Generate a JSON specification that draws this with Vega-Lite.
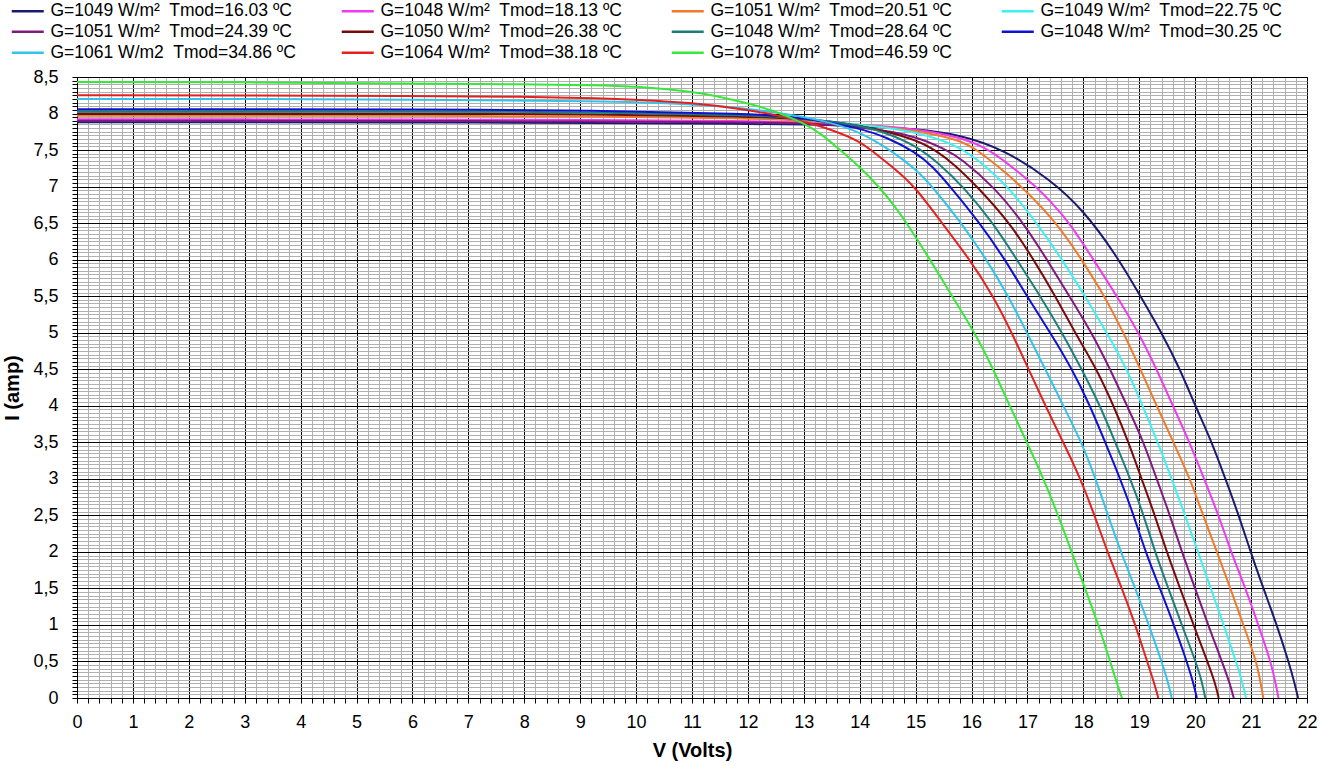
{
  "$schema": "https://vega.github.io/schema/vega-lite/v6.json",
  "autosize": {"type": "none"},
  "width": 1230,
  "height": 621,
  "padding": {"left": 77, "top": 77, "right": 13, "bottom": 67},
  "background": "white",
  "config": {
    "font": "Liberation Sans",
    "view": {"stroke": "black", "strokeWidth": 1},
    "axis": {
      "labelColor": "black",
      "titleColor": "black",
      "domainColor": "black",
      "tickColor": "black",
      "tickSize": 5,
      "labelFontSize": 18,
      "titleFontSize": 20,
      "titleFontWeight": "bold",
      "labelOverlap": false,
      "labelFlush": false,
      "gridWidth": 1
    }
  },
  "datasets": {
    "series": [
      {"t": "16.03", "label": "G=1049 W/m²\u00a0 Tmod=16.03 ºC"},
      {"t": "18.13", "label": "G=1048 W/m²\u00a0 Tmod=18.13 ºC"},
      {"t": "20.51", "label": "G=1051 W/m²\u00a0 Tmod=20.51 ºC"},
      {"t": "22.75", "label": "G=1049 W/m²\u00a0 Tmod=22.75 ºC"},
      {"t": "24.39", "label": "G=1051 W/m²\u00a0 Tmod=24.39 ºC"},
      {"t": "26.38", "label": "G=1050 W/m²\u00a0 Tmod=26.38 ºC"},
      {"t": "28.64", "label": "G=1048 W/m²\u00a0 Tmod=28.64 ºC"},
      {"t": "30.25", "label": "G=1048 W/m²\u00a0 Tmod=30.25 ºC"},
      {"t": "34.86", "label": "G=1061 W/m2\u00a0 Tmod=34.86 ºC"},
      {"t": "38.18", "label": "G=1064 W/m²\u00a0 Tmod=38.18 ºC"},
      {"t": "46.59", "label": "G=1078 W/m²\u00a0 Tmod=46.59 ºC"}
    ],
    "iv": [
      {"t":"16.03","v":0,"i":7.88},{"t":"16.03","v":3,"i":7.88},{"t":"16.03","v":6,"i":7.88},{"t":"16.03","v":9.3,"i":7.87},{"t":"16.03","v":12,"i":7.86},{"t":"16.03","v":13,"i":7.85},{"t":"16.03","v":14,"i":7.83},{"t":"16.03","v":15,"i":7.79},{"t":"16.03","v":15.8,"i":7.71},{"t":"16.03","v":16.6,"i":7.5},{"t":"16.03","v":17.4,"i":7.1},{"t":"16.03","v":18.0,"i":6.68},{"t":"16.03","v":18.6,"i":6.05},{"t":"16.03","v":19.02,"i":5.5},{"t":"16.03","v":19.4,"i":5.0},{"t":"16.03","v":19.73,"i":4.5},{"t":"16.03","v":20.0,"i":4.0},{"t":"16.03","v":20.3,"i":3.5},{"t":"16.03","v":20.54,"i":3.0},{"t":"16.03","v":20.78,"i":2.5},{"t":"16.03","v":20.99,"i":2.0},{"t":"16.03","v":21.22,"i":1.5},{"t":"16.03","v":21.46,"i":1.0},{"t":"16.03","v":21.67,"i":0.5},{"t":"16.03","v":21.78,"i":0.2},{"t":"16.03","v":21.84,"i":0},
      {"t":"18.13","v":0,"i":7.92},{"t":"18.13","v":3,"i":7.92},{"t":"18.13","v":6,"i":7.92},{"t":"18.13","v":9.3,"i":7.91},{"t":"18.13","v":12,"i":7.9},{"t":"18.13","v":13,"i":7.88},{"t":"18.13","v":14,"i":7.85},{"t":"18.13","v":15,"i":7.79},{"t":"18.13","v":15.8,"i":7.68},{"t":"18.13","v":16.35,"i":7.5},{"t":"18.13","v":16.8,"i":7.22},{"t":"18.13","v":17.15,"i":7.0},{"t":"18.13","v":17.41,"i":6.8},{"t":"18.13","v":17.76,"i":6.5},{"t":"18.13","v":18.18,"i":6.0},{"t":"18.13","v":18.6,"i":5.5},{"t":"18.13","v":18.99,"i":5.0},{"t":"18.13","v":19.31,"i":4.5},{"t":"18.13","v":19.6,"i":4.0},{"t":"18.13","v":19.9,"i":3.5},{"t":"18.13","v":20.16,"i":3.0},{"t":"18.13","v":20.42,"i":2.5},{"t":"18.13","v":20.64,"i":2.0},{"t":"18.13","v":20.9,"i":1.5},{"t":"18.13","v":21.13,"i":1.0},{"t":"18.13","v":21.35,"i":0.5},{"t":"18.13","v":21.44,"i":0.2},{"t":"18.13","v":21.49,"i":0},
      {"t":"20.51","v":0,"i":7.97},{"t":"20.51","v":3,"i":7.97},{"t":"20.51","v":6,"i":7.97},{"t":"20.51","v":9.3,"i":7.96},{"t":"20.51","v":12,"i":7.94},{"t":"20.51","v":13,"i":7.9},{"t":"20.51","v":14,"i":7.85},{"t":"20.51","v":15,"i":7.77},{"t":"20.51","v":15.8,"i":7.64},{"t":"20.51","v":16.1,"i":7.5},{"t":"20.51","v":16.5,"i":7.26},{"t":"20.51","v":16.9,"i":7.0},{"t":"20.51","v":17.53,"i":6.5},{"t":"20.51","v":17.97,"i":6.0},{"t":"20.51","v":18.38,"i":5.5},{"t":"20.51","v":18.72,"i":5.0},{"t":"20.51","v":19.02,"i":4.5},{"t":"20.51","v":19.31,"i":4.0},{"t":"20.51","v":19.61,"i":3.5},{"t":"20.51","v":19.91,"i":3.0},{"t":"20.51","v":20.14,"i":2.5},{"t":"20.51","v":20.39,"i":2.0},{"t":"20.51","v":20.63,"i":1.5},{"t":"20.51","v":20.86,"i":1.0},{"t":"20.51","v":21.1,"i":0.5},{"t":"20.51","v":21.17,"i":0.2},{"t":"20.51","v":21.22,"i":0},
      {"t":"22.75","v":0,"i":8.01},{"t":"22.75","v":3,"i":8.01},{"t":"22.75","v":6,"i":8.01},{"t":"22.75","v":9.3,"i":8.0},{"t":"22.75","v":12,"i":7.96},{"t":"22.75","v":13,"i":7.92},{"t":"22.75","v":14,"i":7.85},{"t":"22.75","v":15,"i":7.76},{"t":"22.75","v":15.8,"i":7.55},{"t":"22.75","v":16.25,"i":7.28},{"t":"22.75","v":16.65,"i":7.0},{"t":"22.75","v":17.17,"i":6.5},{"t":"22.75","v":17.62,"i":6.0},{"t":"22.75","v":18.03,"i":5.5},{"t":"22.75","v":18.42,"i":5.0},{"t":"22.75","v":18.78,"i":4.5},{"t":"22.75","v":19.06,"i":4.0},{"t":"22.75","v":19.33,"i":3.5},{"t":"22.75","v":19.58,"i":3.0},{"t":"22.75","v":19.82,"i":2.5},{"t":"22.75","v":20.05,"i":2.0},{"t":"22.75","v":20.28,"i":1.5},{"t":"22.75","v":20.51,"i":1.0},{"t":"22.75","v":20.73,"i":0.5},{"t":"22.75","v":20.85,"i":0.2},{"t":"22.75","v":20.91,"i":0},
      {"t":"24.39","v":0,"i":7.9},{"t":"24.39","v":3,"i":7.9},{"t":"24.39","v":6,"i":7.9},{"t":"24.39","v":9.3,"i":7.89},{"t":"24.39","v":12,"i":7.88},{"t":"24.39","v":13,"i":7.87},{"t":"24.39","v":14,"i":7.82},{"t":"24.39","v":15,"i":7.7},{"t":"24.39","v":15.55,"i":7.5},{"t":"24.39","v":15.8,"i":7.39},{"t":"24.39","v":16.4,"i":7.0},{"t":"24.39","v":16.93,"i":6.5},{"t":"24.39","v":17.35,"i":6.0},{"t":"24.39","v":17.75,"i":5.5},{"t":"24.39","v":18.15,"i":5.0},{"t":"24.39","v":18.48,"i":4.5},{"t":"24.39","v":18.78,"i":4.0},{"t":"24.39","v":19.08,"i":3.5},{"t":"24.39","v":19.31,"i":3.0},{"t":"24.39","v":19.55,"i":2.5},{"t":"24.39","v":19.76,"i":2.0},{"t":"24.39","v":20.0,"i":1.5},{"t":"24.39","v":20.23,"i":1.0},{"t":"24.39","v":20.48,"i":0.5},{"t":"24.39","v":20.62,"i":0.2},{"t":"24.39","v":20.69,"i":0},
      {"t":"26.38","v":0,"i":8.0},{"t":"26.38","v":3,"i":8.0},{"t":"26.38","v":6,"i":8.0},{"t":"26.38","v":9.3,"i":7.99},{"t":"26.38","v":12,"i":7.96},{"t":"26.38","v":13,"i":7.93},{"t":"26.38","v":14,"i":7.85},{"t":"26.38","v":15,"i":7.65},{"t":"26.38","v":15.35,"i":7.5},{"t":"26.38","v":15.7,"i":7.3},{"t":"26.38","v":16.1,"i":7.0},{"t":"26.38","v":16.69,"i":6.5},{"t":"26.38","v":17.11,"i":6.0},{"t":"26.38","v":17.5,"i":5.5},{"t":"26.38","v":17.85,"i":5.0},{"t":"26.38","v":18.24,"i":4.5},{"t":"26.38","v":18.54,"i":4.0},{"t":"26.38","v":18.81,"i":3.5},{"t":"26.38","v":19.04,"i":3.0},{"t":"26.38","v":19.28,"i":2.5},{"t":"26.38","v":19.49,"i":2.0},{"t":"26.38","v":19.73,"i":1.5},{"t":"26.38","v":19.97,"i":1.0},{"t":"26.38","v":20.22,"i":0.5},{"t":"26.38","v":20.36,"i":0.2},{"t":"26.38","v":20.42,"i":0},
      {"t":"28.64","v":0,"i":8.03},{"t":"28.64","v":3,"i":8.03},{"t":"28.64","v":6,"i":8.03},{"t":"28.64","v":9.3,"i":8.02},{"t":"28.64","v":12,"i":7.98},{"t":"28.64","v":13,"i":7.94},{"t":"28.64","v":14,"i":7.84},{"t":"28.64","v":14.5,"i":7.73},{"t":"28.64","v":15,"i":7.56},{"t":"28.64","v":15.4,"i":7.33},{"t":"28.64","v":15.85,"i":7.0},{"t":"28.64","v":16.39,"i":6.5},{"t":"28.64","v":16.81,"i":6.0},{"t":"28.64","v":17.23,"i":5.5},{"t":"28.64","v":17.62,"i":5.0},{"t":"28.64","v":17.97,"i":4.5},{"t":"28.64","v":18.3,"i":4.0},{"t":"28.64","v":18.57,"i":3.5},{"t":"28.64","v":18.84,"i":3.0},{"t":"28.64","v":19.08,"i":2.5},{"t":"28.64","v":19.28,"i":2.0},{"t":"28.64","v":19.52,"i":1.5},{"t":"28.64","v":19.76,"i":1.0},{"t":"28.64","v":20.01,"i":0.5},{"t":"28.64","v":20.13,"i":0.2},{"t":"28.64","v":20.18,"i":0},
      {"t":"30.25","v":0,"i":8.06},{"t":"30.25","v":3,"i":8.06},{"t":"30.25","v":6,"i":8.06},{"t":"30.25","v":9.3,"i":8.04},{"t":"30.25","v":12,"i":8.0},{"t":"30.25","v":13,"i":7.95},{"t":"30.25","v":14,"i":7.8},{"t":"30.25","v":14.5,"i":7.67},{"t":"30.25","v":15,"i":7.47},{"t":"30.25","v":15.3,"i":7.28},{"t":"30.25","v":15.62,"i":7.0},{"t":"30.25","v":16.15,"i":6.5},{"t":"30.25","v":16.6,"i":6.0},{"t":"30.25","v":16.99,"i":5.5},{"t":"30.25","v":17.41,"i":5.0},{"t":"30.25","v":17.8,"i":4.5},{"t":"30.25","v":18.12,"i":4.0},{"t":"30.25","v":18.39,"i":3.5},{"t":"30.25","v":18.66,"i":3.0},{"t":"30.25","v":18.9,"i":2.5},{"t":"30.25","v":19.11,"i":2.0},{"t":"30.25","v":19.37,"i":1.5},{"t":"30.25","v":19.62,"i":1.0},{"t":"30.25","v":19.85,"i":0.5},{"t":"30.25","v":19.97,"i":0.2},{"t":"30.25","v":20.03,"i":0},
      {"t":"34.86","v":0,"i":8.2},{"t":"34.86","v":3,"i":8.2},{"t":"34.86","v":6,"i":8.19},{"t":"34.86","v":9.4,"i":8.17},{"t":"34.86","v":11,"i":8.13},{"t":"34.86","v":12,"i":8.07},{"t":"34.86","v":13,"i":7.96},{"t":"34.86","v":13.5,"i":7.87},{"t":"34.86","v":14,"i":7.75},{"t":"34.86","v":14.55,"i":7.5},{"t":"34.86","v":15,"i":7.24},{"t":"34.86","v":15.3,"i":7.0},{"t":"34.86","v":15.82,"i":6.5},{"t":"34.86","v":16.27,"i":6.0},{"t":"34.86","v":16.66,"i":5.5},{"t":"34.86","v":16.99,"i":5.0},{"t":"34.86","v":17.32,"i":4.5},{"t":"34.86","v":17.64,"i":4.0},{"t":"34.86","v":17.97,"i":3.5},{"t":"34.86","v":18.22,"i":3.0},{"t":"34.86","v":18.44,"i":2.5},{"t":"34.86","v":18.67,"i":2.0},{"t":"34.86","v":18.93,"i":1.5},{"t":"34.86","v":19.17,"i":1.0},{"t":"34.86","v":19.4,"i":0.5},{"t":"34.86","v":19.52,"i":0.2},{"t":"34.86","v":19.58,"i":0},
      {"t":"38.18","v":0,"i":8.25},{"t":"38.18","v":3,"i":8.25},{"t":"38.18","v":6,"i":8.24},{"t":"38.18","v":8,"i":8.23},{"t":"38.18","v":9.4,"i":8.21},{"t":"38.18","v":10,"i":8.19},{"t":"38.18","v":11,"i":8.15},{"t":"38.18","v":12,"i":8.05},{"t":"38.18","v":12.5,"i":7.98},{"t":"38.18","v":13,"i":7.89},{"t":"38.18","v":13.5,"i":7.78},{"t":"38.18","v":14,"i":7.62},{"t":"38.18","v":14.2,"i":7.5},{"t":"38.18","v":14.6,"i":7.26},{"t":"38.18","v":14.99,"i":7.0},{"t":"38.18","v":15.47,"i":6.5},{"t":"38.18","v":15.97,"i":6.0},{"t":"38.18","v":16.39,"i":5.5},{"t":"38.18","v":16.72,"i":5.0},{"t":"38.18","v":17.02,"i":4.5},{"t":"38.18","v":17.32,"i":4.0},{"t":"38.18","v":17.64,"i":3.5},{"t":"38.18","v":17.95,"i":3.0},{"t":"38.18","v":18.2,"i":2.5},{"t":"38.18","v":18.43,"i":2.0},{"t":"38.18","v":18.69,"i":1.5},{"t":"38.18","v":18.93,"i":1.0},{"t":"38.18","v":19.14,"i":0.5},{"t":"38.18","v":19.27,"i":0.2},{"t":"38.18","v":19.34,"i":0},
      {"t":"46.59","v":0,"i":8.43},{"t":"46.59","v":3,"i":8.43},{"t":"46.59","v":6,"i":8.41},{"t":"46.59","v":8,"i":8.4},{"t":"46.59","v":9.3,"i":8.39},{"t":"46.59","v":10,"i":8.37},{"t":"46.59","v":11,"i":8.3},{"t":"46.59","v":11.5,"i":8.23},{"t":"46.59","v":12,"i":8.14},{"t":"46.59","v":12.5,"i":8.03},{"t":"46.59","v":13,"i":7.87},{"t":"46.59","v":13.3,"i":7.73},{"t":"46.59","v":13.65,"i":7.5},{"t":"46.59","v":14,"i":7.27},{"t":"46.59","v":14.34,"i":7.0},{"t":"46.59","v":14.6,"i":6.76},{"t":"46.59","v":14.84,"i":6.5},{"t":"46.59","v":15.26,"i":6.0},{"t":"46.59","v":15.65,"i":5.5},{"t":"46.59","v":16.06,"i":5.0},{"t":"46.59","v":16.39,"i":4.5},{"t":"46.59","v":16.68,"i":4.0},{"t":"46.59","v":16.99,"i":3.5},{"t":"46.59","v":17.29,"i":3.0},{"t":"46.59","v":17.55,"i":2.5},{"t":"46.59","v":17.79,"i":2.0},{"t":"46.59","v":18.03,"i":1.5},{"t":"46.59","v":18.27,"i":1.0},{"t":"46.59","v":18.48,"i":0.5},{"t":"46.59","v":18.6,"i":0.2},{"t":"46.59","v":18.69,"i":0}
    ]
  },
  "data": {"name": "iv"},
  "transform": [
    {"lookup": "t", "from": {"data": {"name": "series"}, "key": "t", "fields": ["label"]}}
  ],
  "mark": {"type": "line", "interpolate": "basis", "strokeWidth": 2},
  "encoding": {
    "x": {
      "field": "v", "type": "quantitative",
      "scale": {"domain": [0, 22], "nice": false, "zero": false},
      "axis": {
        "title": "V (Volts)",
        "titlePadding": 9,
        "labelPadding": 10,
        "values": [0,0.2,0.4,0.6,0.8,1,1.2,1.4,1.6,1.8,2,2.2,2.4,2.6,2.8,3,3.2,3.4,3.6,3.8,4,4.2,4.4,4.6,4.8,5,5.2,5.4,5.6,5.8,6,6.2,6.4,6.6,6.8,7,7.2,7.4,7.6,7.8,8,8.2,8.4,8.6,8.8,9,9.2,9.4,9.6,9.8,10,10.2,10.4,10.6,10.8,11,11.2,11.4,11.6,11.8,12,12.2,12.4,12.6,12.8,13,13.2,13.4,13.6,13.8,14,14.2,14.4,14.6,14.8,15,15.2,15.4,15.6,15.8,16,16.2,16.4,16.6,16.8,17,17.2,17.4,17.6,17.8,18,18.2,18.4,18.6,18.8,19,19.2,19.4,19.6,19.8,20,20.2,20.4,20.6,20.8,21,21.2,21.4,21.6,21.8,22],
        "labelExpr": "abs(datum.value - round(datum.value)) < 0.001 ? format(datum.value, 'd') : ''",
        "grid": true,
        "gridColor": {"condition": {"test": "abs(datum.value - round(datum.value)) < 0.001", "value": "#000000"}, "value": "#b0b0b0"}
      }
    },
    "y": {
      "field": "i", "type": "quantitative",
      "scale": {"domain": [0, 8.5], "nice": false},
      "axis": {
        "title": "I (amp)",
        "titlePadding": 10,
        "labelPadding": 14,
        "values": [0,0.05,0.1,0.15,0.2,0.25,0.3,0.35,0.4,0.45,0.5,0.55,0.6,0.65,0.7,0.75,0.8,0.85,0.9,0.95,1,1.05,1.1,1.15,1.2,1.25,1.3,1.35,1.4,1.45,1.5,1.55,1.6,1.65,1.7,1.75,1.8,1.85,1.9,1.95,2,2.05,2.1,2.15,2.2,2.25,2.3,2.35,2.4,2.45,2.5,2.55,2.6,2.65,2.7,2.75,2.8,2.85,2.9,2.95,3,3.05,3.1,3.15,3.2,3.25,3.3,3.35,3.4,3.45,3.5,3.55,3.6,3.65,3.7,3.75,3.8,3.85,3.9,3.95,4,4.05,4.1,4.15,4.2,4.25,4.3,4.35,4.4,4.45,4.5,4.55,4.6,4.65,4.7,4.75,4.8,4.85,4.9,4.95,5,5.05,5.1,5.15,5.2,5.25,5.3,5.35,5.4,5.45,5.5,5.55,5.6,5.65,5.7,5.75,5.8,5.85,5.9,5.95,6,6.05,6.1,6.15,6.2,6.25,6.3,6.35,6.4,6.45,6.5,6.55,6.6,6.65,6.7,6.75,6.8,6.85,6.9,6.95,7,7.05,7.1,7.15,7.2,7.25,7.3,7.35,7.4,7.45,7.5,7.55,7.6,7.65,7.7,7.75,7.8,7.85,7.9,7.95,8,8.05,8.1,8.15,8.2,8.25,8.3,8.35,8.4,8.45,8.5],
        "labelExpr": "abs(datum.value * 2 - round(datum.value * 2)) < 0.001 ? replace(format(datum.value, '.1~f'), '.', ',') : ''",
        "grid": true,
        "gridColor": {"condition": {"test": "abs(datum.value * 2 - round(datum.value * 2)) < 0.001", "value": "#000000"}, "value": "#b0b0b0"}
      }
    },
    "color": {
      "field": "label", "type": "nominal",
      "scale": {
        "domain": [
          "G=1049 W/m²\u00a0 Tmod=16.03 ºC",
          "G=1048 W/m²\u00a0 Tmod=18.13 ºC",
          "G=1051 W/m²\u00a0 Tmod=20.51 ºC",
          "G=1049 W/m²\u00a0 Tmod=22.75 ºC",
          "G=1051 W/m²\u00a0 Tmod=24.39 ºC",
          "G=1050 W/m²\u00a0 Tmod=26.38 ºC",
          "G=1048 W/m²\u00a0 Tmod=28.64 ºC",
          "G=1048 W/m²\u00a0 Tmod=30.25 ºC",
          "G=1061 W/m2\u00a0 Tmod=34.86 ºC",
          "G=1064 W/m²\u00a0 Tmod=38.18 ºC",
          "G=1078 W/m²\u00a0 Tmod=46.59 ºC"
        ],
        "range": ["#1a1a72", "#ee3bee", "#f0792a", "#3ff0f0", "#80187f", "#7a0a0a", "#1a7f7a", "#1010d0", "#33c3ea", "#e52020", "#38e838"]
      },
      "legend": {
        "title": null,
        "orient": "none",
        "legendX": -58,
        "legendY": -75,
        "columns": 4,
        "direction": "horizontal",
        "gridAlign": "all",
        "padding": 0,
        "symbolType": "M-3.2,0H3.2",
        "symbolSize": 100,
        "symbolStrokeWidth": 2.5,
        "labelFontSize": 17.5,
        "labelColor": "black",
        "labelOffset": 14,
        "labelLimit": 400,
        "rowPadding": 2,
        "columnPadding": 39
      }
    }
  }
}
